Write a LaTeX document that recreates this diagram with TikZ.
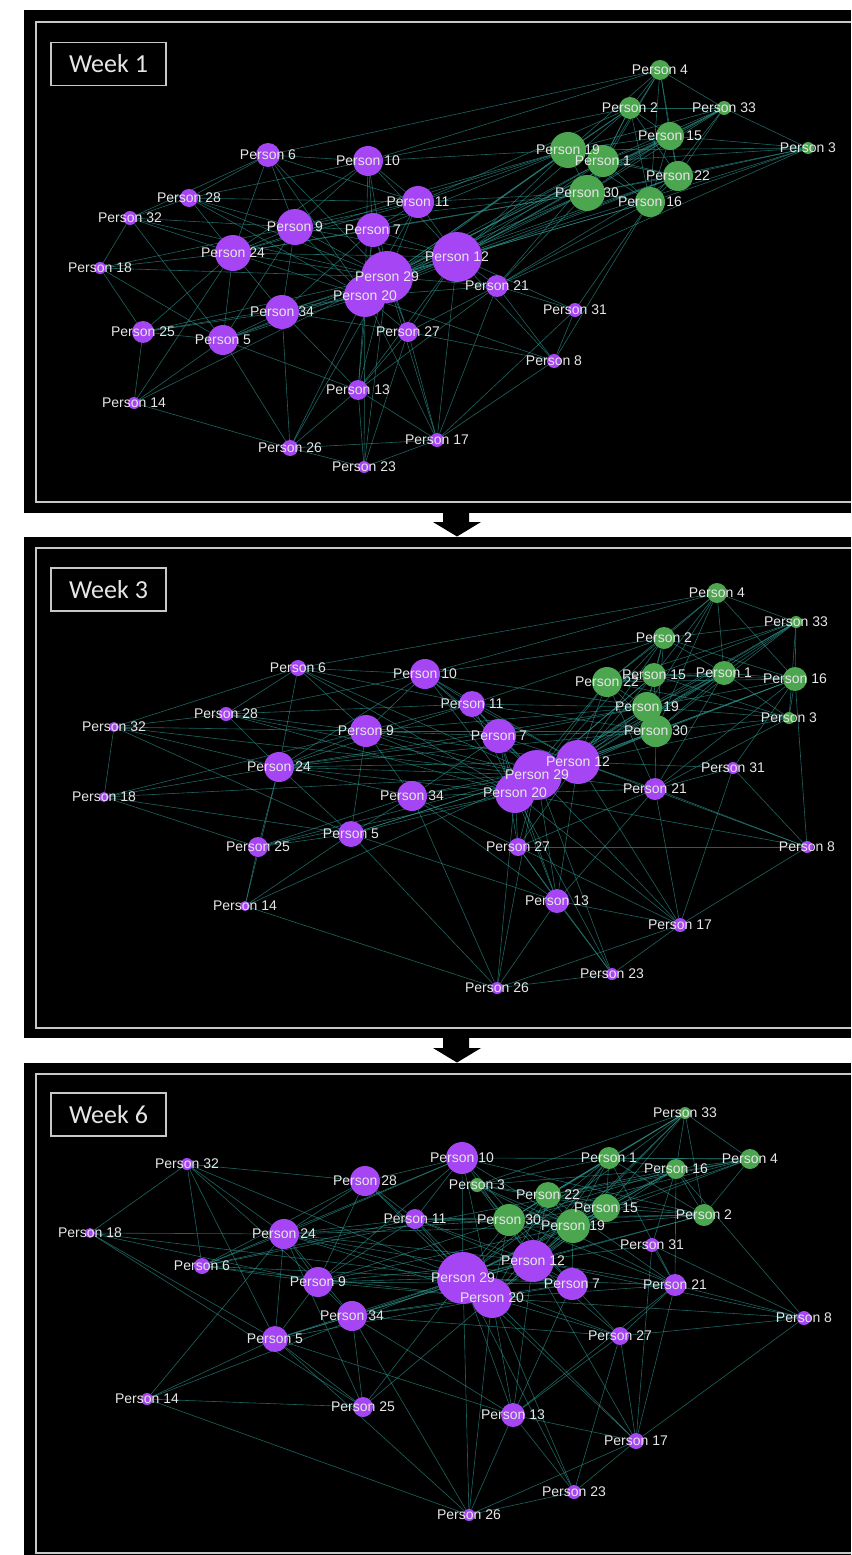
\documentclass[tikz,border=0pt]{standalone}
\usepackage{fontspec}
\setmainfont{Liberation Sans}
\newfontfamily\weekfont{Carlito}
\usetikzlibrary{backgrounds}
\pgfdeclarelayer{labels}
\pgfsetlayers{background,main,labels}
\definecolor{vio}{HTML}{A545F3}
\definecolor{grn}{HTML}{4BA64F}
\definecolor{edge}{HTML}{2E9A93}
\definecolor{lbltext}{HTML}{E6E6E6}
\definecolor{framegray}{HTML}{C8C8C8}

% who is linked to whom (same list for every week)
\def\ties{1/2,1/3,1/4,1/15,1/16,1/19,1/22,1/30,1/33,
  2/4,2/15,2/16,2/19,2/22,2/30,2/33,
  3/15,3/16,3/19,3/22,3/30,3/33,
  4/15,4/16,4/19,4/22,4/30,4/33,
  15/16,15/19,15/22,15/30,15/33,
  16/19,16/22,16/30,16/33,
  19/22,19/30,19/33,22/30,22/33,30/33,
  19/12,19/11,19/10,19/29,19/20,19/7,19/24,19/9,
  1/12,1/29,1/20,1/21,
  30/12,30/29,30/20,30/21,30/11,30/9,30/24,30/7,
  16/12,16/21,16/31,16/29,16/8,
  22/12,22/29,22/21,22/20,15/12,15/29,15/20,
  2/12,2/10,2/11,2/29,4/10,4/6,3/21,3/12,33/12,33/29,
  12/29,12/20,12/7,12/11,12/10,12/21,12/31,12/27,12/8,12/13,12/17,12/24,12/9,12/34,12/5,
  29/20,29/7,29/9,29/24,29/34,29/5,29/10,29/11,29/6,29/28,29/32,29/18,29/25,29/13,
  29/26,29/23,29/27,29/21,29/17,29/14,
  20/7,20/9,20/24,20/34,20/5,20/13,20/27,20/26,20/23,20/17,20/25,20/21,20/8,20/10,
  20/11,20/6,20/28,
  7/9,7/10,7/11,7/24,7/34,7/13,7/27,
  9/24,9/28,9/32,9/6,9/10,9/18,9/34,9/5,9/11,
  24/28,24/32,24/6,24/18,24/34,24/5,24/25,24/14,24/10,24/11,
  34/5,34/25,34/13,34/26,34/27,
  5/25,5/14,5/13,5/26,5/18,5/32,
  10/6,10/11,10/28,11/6,11/28,
  13/26,13/23,13/17,13/27,13/21,
  21/31,21/8,21/27,21/17,27/17,27/23,27/8,31/8,31/17,
  26/23,26/17,25/14,25/18,18/32,28/32,6/28,14/26,17/23,8/17,32/6}

\begin{document}
\begin{tikzpicture}[x=0.75pt,y=-0.75pt,
  panel/.style={fill=black},
  frame/.style={draw=framegray,line width=1.5pt},
  wkbox/.style={draw=framegray,line width=1.1pt,minimum width=86pt,minimum height=32pt,
    inner sep=0pt,font=\weekfont\fontsize{19.5}{22}\selectfont,text=lbltext},
  pers/.style={circle,inner sep=0pt,draw=none},
  plbl/.style={inner sep=0pt,font=\fontsize{10.5}{12}\selectfont,text=lbltext},
  lnk/.style={draw=edge,line width=0.45pt,opacity=0.65},
]
\useasboundingbox (0,0) rectangle (851,1555);

\begin{scope}[on background layer]
\fill[white] (0,0) rectangle (851,1555);
% three panels
\fill[panel] (24,10) rectangle (851,513);
\draw[frame] (851,22) -- (36,22) -- (36,502) -- (851,502);
\fill[panel] (24,537) rectangle (851,1038);
\draw[frame] (851,548) -- (36,548) -- (36,1028) -- (851,1028);
\fill[panel] (24,1063) rectangle (851,1555);
\draw[frame] (851,1074) -- (36,1074) -- (36,1553) -- (851,1553);
% arrows between weeks
\fill[black] (443,512) -- (469,512) -- (469,522) -- (481,522) -- (457,536.5) -- (433,522) -- (443,522) -- cycle;
\fill[black] (443,1037) -- (469,1037) -- (469,1048) -- (481,1048) -- (457,1062.5) -- (433,1048) -- (443,1048) -- cycle;
\end{scope}

\node[wkbox] (wk1) at (108.5,64) {Week 1};
\node[wkbox] (wk3) at (108.5,589.5) {Week 3};
\node[wkbox] (wk6) at (108.5,1114.5) {Week 6};

% week 1
\foreach \n/\x/\y/\r/\c in {4/660/70/10/grn,2/630/108/11/grn,33/724/108/7/grn,15/670/136/14/grn,
  19/568/150/18/grn,1/603/161/16/grn,3/808/148/6/grn,22/678/176/15/grn,30/587/193/18/grn,
  16/650/202/15/grn,6/268/155/12/vio,10/368/161/15/vio,28/189/198/9/vio,11/418/202/16/vio,
  32/130/218/7/vio,9/295/227/18/vio,7/373/230/17/vio,24/233/253/18/vio,12/457/257/25/vio,
  18/100/268/6/vio,20/365/296/21/vio,29/387/277/26/vio,21/497/286/11/vio,34/282/312/17/vio,
  31/575/310/7/vio,25/143/332/11/vio,5/223/340/15/vio,27/408/332/10/vio,8/554/361/7/vio,
  13/358/390/10/vio,14/134/403/6/vio,17/437/440/7/vio,26/290/448/8/vio,23/364/467/6/vio}
{
  \node[pers,fill=\c,minimum size=1.5pt*\r] (w1p\n) at (\x,\y) {};
  \begin{pgfonlayer}{labels}
  \node[plbl] (w1l\n) at (w1p\n) {Person \n};
  \end{pgfonlayer}
}

% week 3
\foreach \n/\x/\y/\r/\c in {4/717/593/10/grn,33/796/622/6/grn,2/664/638/11/grn,22/607/682/15/grn,
  15/654/675/12/grn,1/724/673/12/grn,16/795/679/12/grn,19/647/707/15/grn,3/789/718/6/grn,
  30/656/731/16/grn,6/298/668/8/vio,10/425/674/15/vio,11/472/704/13/vio,28/226/714/7/vio,
  32/114/727/5/vio,9/366/731/16/vio,7/499/736/17/vio,24/279/767/15/vio,12/578/762/22/vio,
  20/515/793/20/vio,29/537/775/25/vio,31/733/768/6/vio,34/412/796/15/vio,18/104/797/5/vio,
  21/655/789/11/vio,5/351/834/13/vio,25/258/847/10/vio,27/518/847/9/vio,8/807/847/6/vio,
  13/557/901/12/vio,14/245/906/5/vio,17/680/925/7/vio,23/612/974/6/vio,26/497/988/6/vio}
{
  \node[pers,fill=\c,minimum size=1.5pt*\r] (w3p\n) at (\x,\y) {};
  \begin{pgfonlayer}{labels}
  \node[plbl] (w3l\n) at (w3p\n) {Person \n};
  \end{pgfonlayer}
}

% week 6
\foreach \n/\x/\y/\r/\c in {33/685/1113/6/grn,1/609/1158/11/grn,4/750/1159/10/grn,16/676/1169/10/grn,
  10/462/1158/16/vio,32/187/1164/6/vio,28/365/1181/15/vio,3/477/1185/7/grn,22/548/1195/13/grn,
  15/606/1208/14/grn,2/704/1215/11/grn,11/415/1219/10/vio,30/509/1220/16/grn,19/573/1226/17/grn,
  18/90/1233/5/vio,24/284/1234/15/vio,31/652/1245/7/vio,6/202/1266/8/vio,12/533/1261/21/vio,
  20/492/1298/20/vio,29/463/1278/26/vio,9/318/1282/15/vio,7/572/1284/16/vio,21/675/1285/11/vio,
  34/352/1316/15/vio,8/804/1318/7/vio,5/275/1339/13/vio,27/620/1336/9/vio,14/147/1399/6/vio,
  25/363/1407/10/vio,13/513/1415/12/vio,17/636/1441/8/vio,23/574/1492/7/vio,26/469/1515/6/vio}
{
  \node[pers,fill=\c,minimum size=1.5pt*\r] (w6p\n) at (\x,\y) {};
  \begin{pgfonlayer}{labels}
  \node[plbl] (w6l\n) at (w6p\n) {Person \n};
  \end{pgfonlayer}
}

% links, under the circles
\begin{scope}[on background layer]
\foreach \w in {1,3,6}
  \foreach \a/\b in \ties
    \draw[lnk] (w\w p\a) -- (w\w p\b);
\end{scope}
\end{tikzpicture}
\end{document}
